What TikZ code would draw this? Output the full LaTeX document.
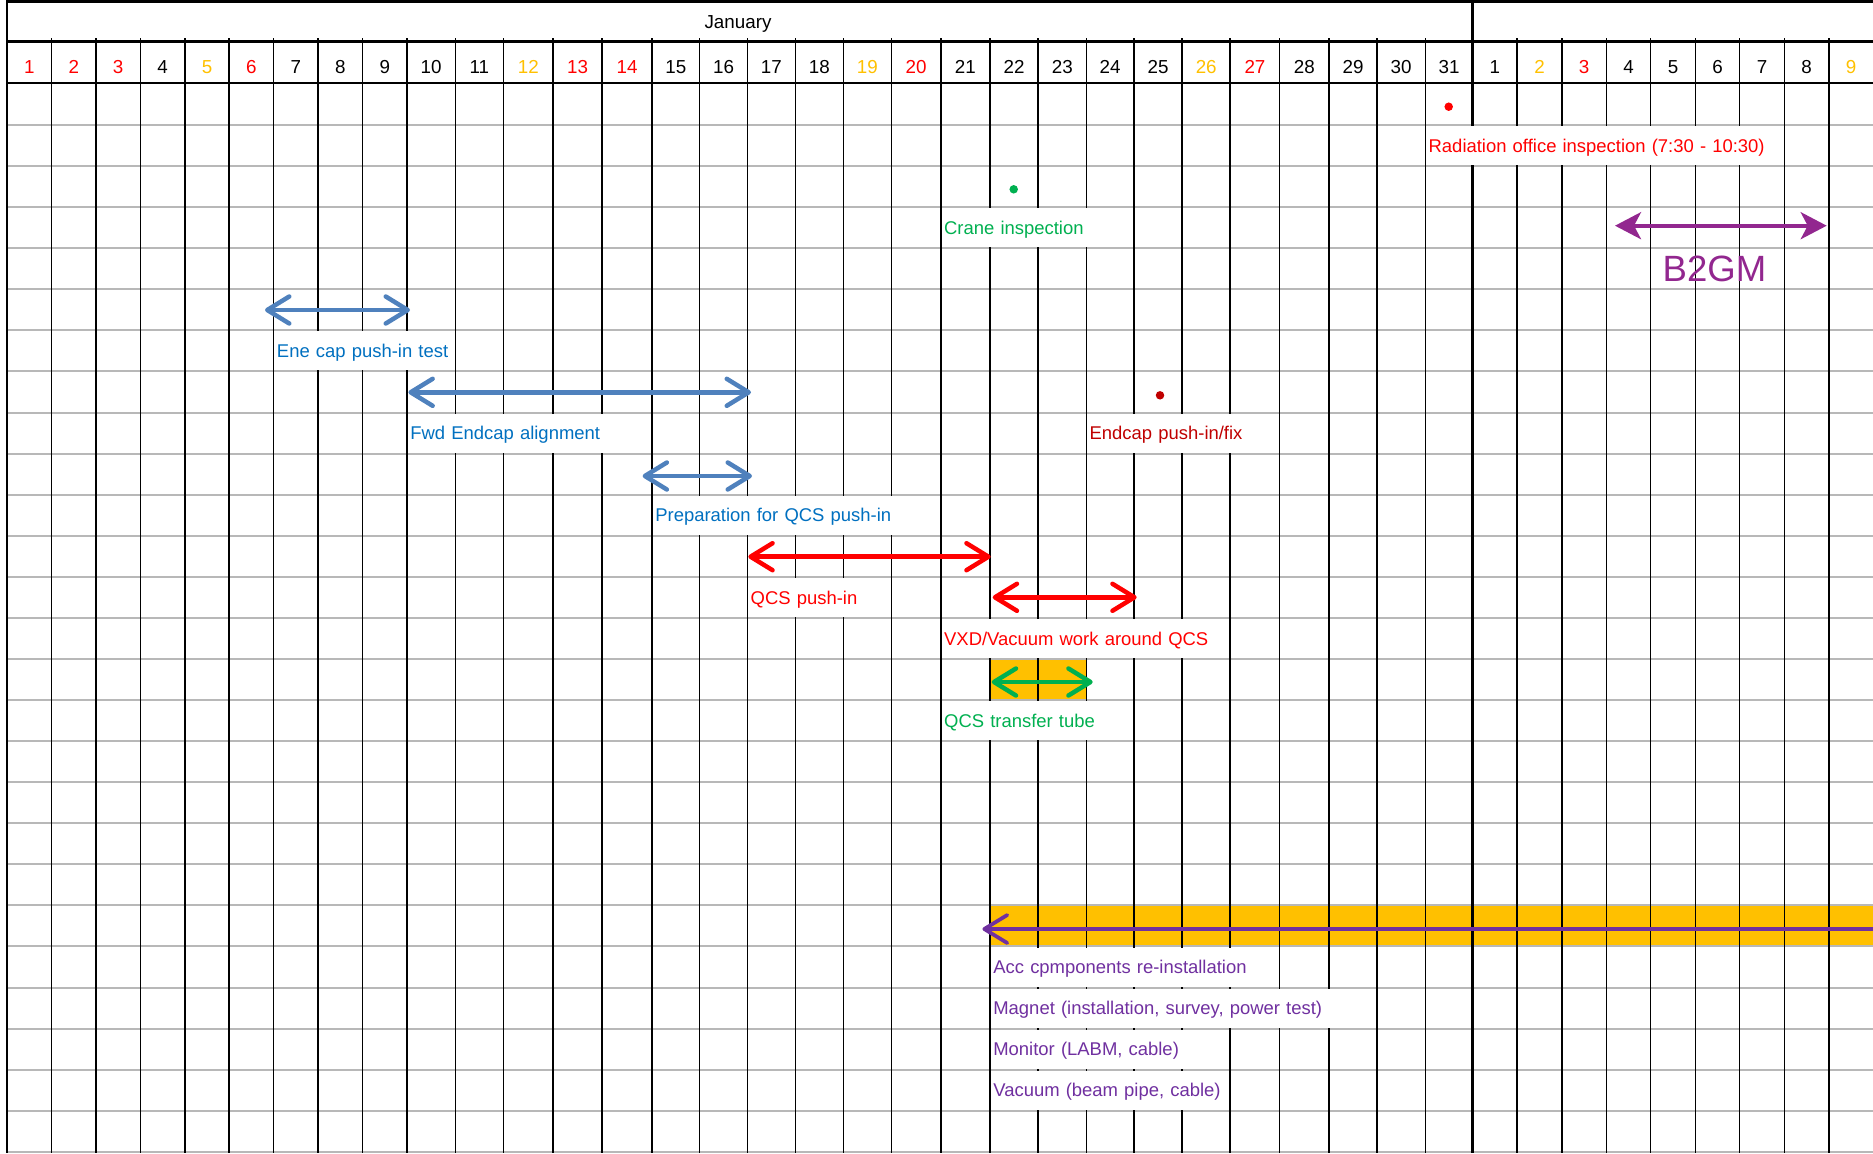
\documentclass[tikz,border=0pt]{standalone}
\usepackage{fontspec}
\setmainfont{Liberation Sans}
\usetikzlibrary{arrows.meta}
\usetikzlibrary{calc}
\definecolor{dayred}{RGB}{255,0,0}
\definecolor{dayorange}{RGB}{255,192,0}
\definecolor{gridgray}{RGB}{184,184,184}
\definecolor{taskblue}{RGB}{0,112,192}
\definecolor{arrowblue}{RGB}{79,129,189}
\definecolor{taskgreen}{RGB}{0,176,80}
\definecolor{darkred}{RGB}{192,0,0}
\definecolor{accpurple}{RGB}{112,48,160}
\definecolor{meetpurple}{RGB}{146,39,143}
\tikzset{lbl/.style = {fill=white, anchor=west, xshift=0.03cm, inner xsep=0.03cm, inner ysep=0,
                       minimum height=0.78cm, text height=0.31cm, text depth=0.04cm, align=left,
                       font=\fontsize{10.5}{12}\selectfont}}
\tikzset{day/.style = {anchor=base, inner sep=0, font=\fontsize{10.7}{12}\selectfont}}
\tikzset{dot/.style = {circle, inner sep=0, minimum size=0.17cm}}
\tikzset{gridline/.style = {draw=gridgray, line width=0.04cm}}
\tikzset{colline/.style = {draw=black, line width=0.03cm}}
\tikzset{span/.style = {line width=0.09cm, >={Straight Barb[length=0.44cm, width=0.54cm, round]}, <->}}
\tikzset{backspan/.style = {line width=0.075cm, -{Straight Barb[length=0.46cm, width=0.56cm, round]}}}
\tikzset{meetspan/.style = {line width=0.075cm, >={Stealth[length=0.52cm, width=0.54cm, inset=0.14cm]}, <->}}

\begin{document}
\begin{tikzpicture}[x=0.02cm, y=-0.02cm]
    \useasboundingbox (0,0) rectangle (1873,1153);

    \foreach \x [count=\i] in {7,51.5,96,140.3,184.8,229.2,273.6,318,362.5,407,455.3,503.5,553,602,652,
                               699.7,747.3,795.3,843.3,891.3,940.8,990,1038.2,1086.3,1134,1182.2,1230.2,
                               1279.7,1329,1377,1425.3,1472.7,1517,1562,1606.3,1650.7,1695.3,1739.7,
                               1784.3,1829,1873}
        \coordinate (c\i) at (\x,0);
    \foreach \k in {1,...,26}
        \coordinate (r\k) at (0,{84+(\k-0.5)*41.07});

    \fill [dayorange] (c22 |- 0,659) rectangle (c24 |- 0,700.05);
    \fill [dayorange] (c22 |- 0,905.4) rectangle (1873,946.47);

    \foreach \k in {1,...,26}
        \draw [gridline] (7,{84+\k*41.07}) -- (1873,{84+\k*41.07});
    \foreach \i in {2,...,40}
        \draw [colline] (c\i |- 0,38) -- (c\i |- 0,1153);

    \draw [line width=0.066cm] (7,1.7) -- (1873,1.7);
    \draw [line width=0.066cm] (7,41.7) -- (1873,41.7);
    \draw [line width=0.04cm] (7,83.2) -- (1873,83.2);
    \draw [line width=0.04cm] (7,0) -- (7,1153);
    \draw [line width=0.066cm] (c32 |- 0,0) -- (c32 |- 0,1153);

    \node [day] (janLbl) at (738,28.5) {January};
    \foreach \d/\col [count=\i] in {1/dayred,2/dayred,3/dayred,4/black,5/dayorange,6/dayred,7/black,
                                    8/black,9/black,10/black,11/black,12/dayorange,13/dayred,14/dayred,
                                    15/black,16/black,17/black,18/black,19/dayorange,20/dayred,21/black,
                                    22/black,23/black,24/black,25/black,26/dayorange,27/dayred,28/black,
                                    29/black,30/black,31/black,1/black,2/dayorange,3/dayred,4/black,
                                    5/black,6/black,7/black,8/black,9/dayorange} {
        \pgfmathtruncatemacro\j{\i+1}
        \node [day, text=\col] (day\i) at ($(c\i)!0.5!(c\j) + (0,73.3)$) {\d};
    }

    \node [lbl, text=dayred, text width=7.06cm] (radLbl) at (c31 |- r2) {Radiation office inspection (7:30 - 10:30)};
    \node [lbl, text=taskgreen, text width=3.74cm] (craneLbl) at (c21 |- r4) {Crane inspection};
    \node [lbl, text=taskblue, text width=3.51cm] (eneLbl) at (c7 |- r7) {Ene cap push-in test};
    \node [lbl, text=taskblue, text width=4.78cm] (fwdLbl) at (c10 |- r9) {Fwd Endcap alignment};
    \node [lbl, text=darkred, text width=3.75cm] (endcapLbl) at (c24 |- r9) {Endcap push-in/fix};
    \node [lbl, text=taskblue, text width=5.66cm] (prepLbl) at (c15 |- r11) {Preparation for QCS push-in};
    \node [lbl, text=dayred, text width=2.76cm] (qcsLbl) at (c17 |- r13) {QCS push-in};
    \node [lbl, text=dayred, text width=5.67cm] (vxdLbl) at (c21 |- r14) {VXD/Vacuum work around QCS};
    \node [lbl, text=taskgreen, text width=3.74cm] (tubeLbl) at (c21 |- r16) {QCS transfer tube};
    \node [lbl, text=accpurple, text width=5.67cm] (accLbl) at (c22 |- r22) {Acc cpmponents re-installation};
    \node [lbl, text=accpurple, text width=7.62cm] (magLbl) at (c22 |- r23) {Magnet (installation, survey, power test)};
    \node [lbl, text=accpurple, text width=4.68cm] (monLbl) at (c22 |- r24) {Monitor (LABM, cable)};
    \node [lbl, text=accpurple, text width=4.68cm] (vacLbl) at (c22 |- r25) {Vacuum (beam pipe, cable)};

    \node [dot, fill=dayred] (radDot) at (1448.7,106.7) {};
    \node [dot, fill=taskgreen] (craneDot) at (1013.7,189.3) {};
    \node [dot, fill=darkred] (endcapDot) at (1160,395.3) {};

    \coordinate (eneA) at (265,310);
    \coordinate (eneB) at (410,310);
    \coordinate (fwdA) at (408.4,392.3);
    \coordinate (fwdB) at (751,392.3);
    \coordinate (prepA) at (642.6,476);
    \coordinate (prepB) at (752,476);
    \coordinate (qcsA) at (748.3,556.7);
    \coordinate (qcsB) at (990.7,556.7);
    \coordinate (vxdA) at (992.7,597.3);
    \coordinate (vxdB) at (1136.7,597.3);
    \coordinate (tubeA) at (991.7,682);
    \coordinate (tubeB) at (1092.7,682);
    \coordinate (accA) at (1873,929);
    \coordinate (accB) at (982.4,929);
    \coordinate (meetA) at (1615,225.7);
    \coordinate (meetB) at (1826.7,225.7);

    \draw [span, arrowblue] (eneA) -- (eneB);
    \draw [span, arrowblue] (fwdA) -- (fwdB);
    \draw [span, arrowblue] (prepA) -- (prepB);
    \draw [span, dayred] (qcsA) -- (qcsB);
    \draw [span, dayred] (vxdA) -- (vxdB);
    \draw [span, taskgreen] (tubeA) -- (tubeB);
    \draw [backspan, accpurple] (accA) -- (accB);
    \draw [meetspan, meetpurple] (meetA) -- (meetB);
    \node [text=meetpurple, inner sep=0, font=\fontsize{20.8}{24}\selectfont] (meetLbl) at (1714.5,268.8) {B2GM};
\end{tikzpicture}
\end{document}
